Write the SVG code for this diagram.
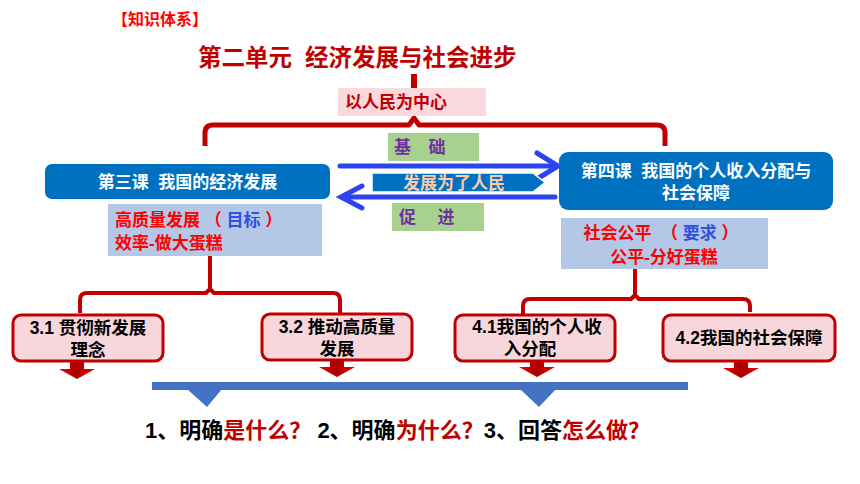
<svg xmlns="http://www.w3.org/2000/svg" width="860" height="484" viewBox="0 0 860 484">
<style>
text{font-family:"Liberation Sans","Noto Sans CJK SC",sans-serif;font-weight:bold}
.br{fill:none;stroke:#C00000;stroke-linejoin:round}
.bl{fill:none;stroke:#2B44F0;stroke-width:5;stroke-linecap:round;stroke-linejoin:miter}
.blue{fill:#0070C0}
.lb{fill:#B4C7E7}
.gr{fill:#A9D18E}
.pk{fill:#F8D7DC;stroke:#C00000;stroke-width:3}
.w{fill:#FFFFFF;font-size:17px}
.k{fill:#000000;font-size:17.5px}
.r{fill:#FF0000}
.dr{fill:#C00000}
.bt{fill:#3050E0}
.pu{fill:#7030A0;font-size:17px}
</style>
<defs>
<linearGradient id="rg" x1="0" y1="0" x2="1" y2="0">
<stop offset="0" stop-color="#F00000"/>
<stop offset="0.5" stop-color="#A80000"/>
<stop offset="1" stop-color="#F00000"/>
</linearGradient>
<path id="redArrow" d="M-7,0 H7 V7 H18 L0,17 L-18,7 H-7 Z" fill="url(#rg)"/>
</defs>
<rect width="860" height="484" fill="#FFFFFF"/>

<g id="header">
<text x="112" y="25" font-size="16" fill="#FF0000">【知识体系】</text>
</g>
<g id="title">
<text x="198" y="65.5" font-size="23.5" fill="#C00000" xml:space="preserve">第二单元  经济发展与社会进步</text>
</g>

<g id="connectors">
<rect x="411" y="74" width="6" height="15" fill="#C00000"/>
<path class="br" stroke-width="5" d="M205,146 V133 Q205,125 213,125 H409 L414,118 L419,125 H657 Q665,125 665,133 V146"/>
<path class="br" stroke-width="4" d="M210,256 V290"/>
<path class="br" stroke-width="4" d="M80,313 V300 Q80,293 87,293 H206 L210,289 L214,293 H333 Q340,293 340,300 V313"/>
<path class="br" stroke-width="4" d="M635,268 V296"/>
<path class="br" stroke-width="4" d="M523,314 V306 Q523,299 530,299 H631 L635,295 L639,299 H743 Q750,299 750,306 V312"/>
<path class="bl" d="M340,166 H556"/>
<path class="bl" d="M537,153 L558,166 L537,179"/>
<path class="bl" d="M555,197 H342"/>
<path class="bl" d="M362,186 L341,197 L362,208"/>
<use href="#redArrow" x="77" y="362"/>
<use href="#redArrow" x="337" y="360"/>
<use href="#redArrow" x="537" y="360"/>
<use href="#redArrow" x="741" y="361"/>
</g>

<g id="n-center">
<rect x="338" y="88" width="148" height="28" fill="#F9D9DE"/>
<text x="345" y="108" font-size="17" fill="#C00000">以人民为中心</text>
</g>

<g id="n-basis">
<rect class="gr" x="388" y="133" width="91" height="28"/>
<text class="pu" x="394" y="153" xml:space="preserve" word-spacing="4">基  础</text>
</g>
<g id="n-promote">
<rect class="gr" x="392" y="203" width="92" height="28"/>
<text class="pu" x="399" y="223" xml:space="preserve" word-spacing="6">促  进</text>
</g>
<g id="n-banner">
<polygon points="372,173 533,173 545,182.5 533,192 372,192" fill="#0070C0" stroke="#FFFFFF" stroke-width="1.5"/>
<text x="403" y="189" font-size="17" fill="#F8CBAD">发展为了人民</text>
</g>

<g id="n-lesson3">
<rect class="blue" x="45" y="164" width="285" height="35" rx="7"/>
<text class="w" x="187.5" y="188" text-anchor="middle" xml:space="preserve">第三课  我国的经济发展</text>
</g>
<g id="n-goal">
<rect class="lb" x="108" y="204" width="214" height="52"/>
<text x="115" y="226" font-size="17" xml:space="preserve"><tspan class="r">高质量发展 （ </tspan><tspan class="bt">目标</tspan><tspan class="r"> ）</tspan></text>
<text class="r" x="115" y="249" font-size="17">效率-做大蛋糕</text>
</g>

<g id="n-lesson4">
<rect class="blue" x="559" y="152" width="274" height="58" rx="9"/>
<text class="w" x="696" y="177" text-anchor="middle" xml:space="preserve">第四课  我国的个人收入分配与</text>
<text class="w" x="696" y="199" text-anchor="middle">社会保障</text>
</g>
<g id="n-req">
<rect class="lb" x="561" y="218" width="207" height="51"/>
<text x="661" y="239" font-size="17" text-anchor="middle" xml:space="preserve"><tspan class="r">社会公平  （ </tspan><tspan class="bt">要求</tspan><tspan class="r"> ）</tspan></text>
<text class="r" x="664" y="263" font-size="17" text-anchor="middle">公平-分好蛋糕</text>
</g>

<g id="n-31">
<rect class="pk" x="13" y="315" width="150" height="46" rx="8"/>
<text class="k" x="88" y="334" text-anchor="middle">3.1 贯彻新发展</text>
<text class="k" x="88" y="356" text-anchor="middle">理念</text>
</g>
<g id="n-32">
<rect class="pk" x="262" y="314" width="150" height="46" rx="8"/>
<text class="k" x="337" y="333" text-anchor="middle">3.2 推动高质量</text>
<text class="k" x="337" y="355" text-anchor="middle">发展</text>
</g>
<g id="n-41">
<rect class="pk" x="455" y="315" width="160" height="46" rx="8"/>
<text class="k" x="537" y="333" text-anchor="middle">4.1我国的个人收</text>
<text class="k" x="530" y="355" text-anchor="middle">入分配</text>
</g>
<g id="n-42">
<rect class="pk" x="663" y="315" width="172" height="46" rx="8"/>
<text class="k" x="749" y="344" text-anchor="middle">4.2我国的社会保障</text>
</g>

<g id="bar">
<rect x="152" y="382" width="536" height="8" fill="#4472C4"/>
<polygon points="187,389 222,389 207,407" fill="#4472C4"/>
<polygon points="520,389 556,389 539,407" fill="#4472C4"/>
</g>

<g id="questions">
<text x="145" y="438" font-size="22" xml:space="preserve"><tspan fill="#000000">1、明确</tspan><tspan class="dr">是什么？</tspan><tspan fill="#000000"> 2、明确</tspan><tspan class="dr">为什么？</tspan><tspan fill="#000000">3、回答</tspan><tspan class="dr">怎么做？</tspan></text>
</g>
</svg>
